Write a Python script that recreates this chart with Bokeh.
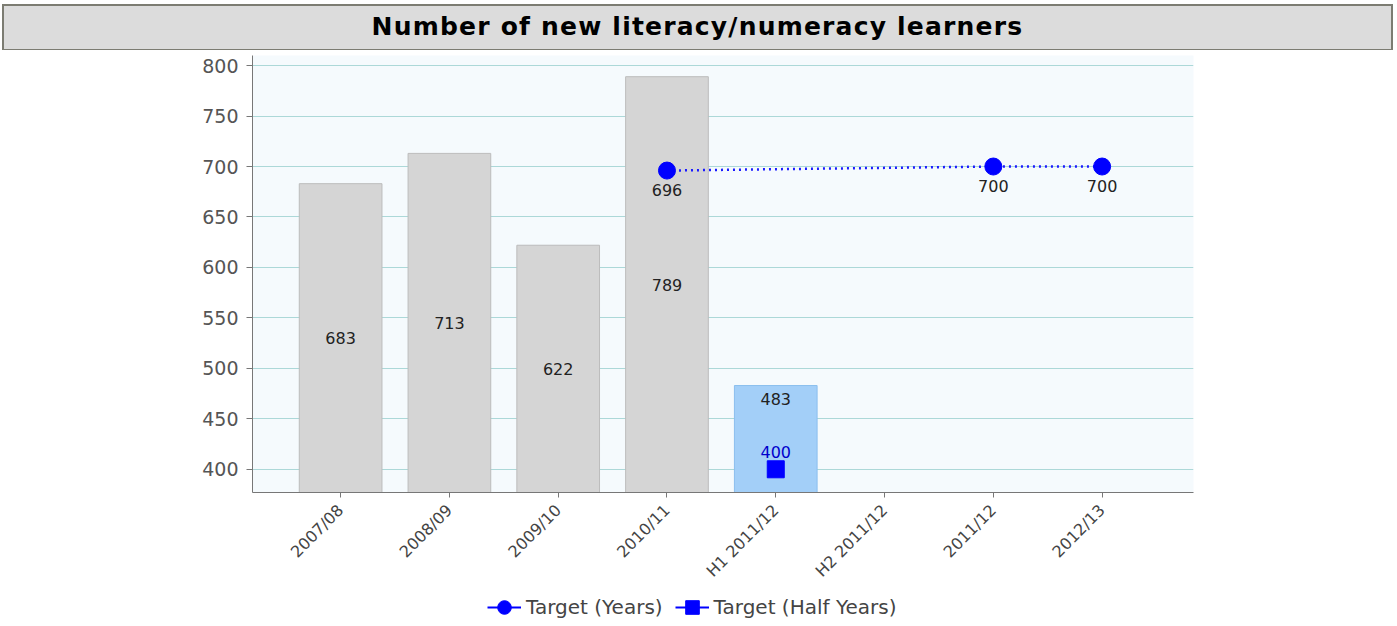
from bokeh.plotting import figure
from bokeh.models import Range1d, FixedTicker, Legend, LegendItem, Div
from bokeh.layouts import column
from bokeh.embed import file_html
from bokeh.resources import INLINE
from bokeh.core.properties import value
from math import pi

# ---------------- data ----------------
title_text = "Number of new literacy/numeracy learners"
categories = ["2007/08", "2008/09", "2009/10", "2010/11",
              "H1 2011/12", "H2 2011/12", "2011/12", "2012/13"]
actual_cats = ["2007/08", "2008/09", "2009/10", "2010/11", "H1 2011/12"]
actual_values = [683, 713, 622, 789, 483]
target_year_cats = ["2010/11", "2011/12", "2012/13"]
target_year_values = [696, 700, 700]
target_half_cats = ["H1 2011/12"]
target_half_values = [400]
y_ticks = [400, 450, 500, 550, 600, 650, 700, 750, 800]
legend_labels = ["Target (Years)", "Target (Half Years)"]

FONT = "DejaVu Sans"
Y0, Y1 = 377, 810

idx = {c: i for i, c in enumerate(categories)}

# ---------------- title bar ----------------
title = Div(
    text=(f'<div style="width:1391px;height:46px;box-sizing:border-box;'
          f'background:#dcdcdc;border:2px solid #7c7c72;border-bottom:1px solid #7c7c72;'
          f'font-family:\'DejaVu Sans\';font-weight:bold;font-size:25px;color:#000;'
          f'text-align:center;line-height:42px;letter-spacing:1.2px;">{title_text}</div>'),
    width=1391, height=46, margin=(4, 0, 0, 2))

# ---------------- main figure ----------------
p = figure(width=1395, height=540, output_backend="svg", toolbar_location=None,
           x_range=Range1d(-0.81, 7.84), y_range=Range1d(Y0, Y1),
           min_border_left=252, min_border_right=202,
           min_border_top=5, min_border_bottom=97)
p.outline_line_color = None
p.background_fill_color = "#f5fafd"
p.border_fill_color = "white"

# bars
bx = [idx[c] for c in actual_cats]
half_set = set(target_half_cats)
bar_fill = ["#a3cff8" if c.startswith("H") else "#d5d5d5" for c in actual_cats]
bar_line = ["#8cbfee" if c.startswith("H") else "#bcbcbc" for c in actual_cats]
p.vbar(x=bx, top=actual_values, bottom=Y0, width=0.76,
       fill_color=bar_fill, line_color=bar_line, line_width=1)

# bar value labels
label_y = [(v - 13) if c in half_set else (Y0 + v) / 2.0
           for c, v in zip(actual_cats, actual_values)]
p.text(x=bx, y=label_y, text=[str(v) for v in actual_values],
       text_font=value(FONT), text_font_size="16px", text_color="#222222",
       text_align="center", text_baseline="middle")

# target years
tx = [idx[c] for c in target_year_cats]
p.line(x=tx, y=target_year_values, line_color="#1a1aff", line_width=2.5,
       line_dash="2 4")
p.scatter(x=tx, y=target_year_values, marker="circle", size=17,
          fill_color="#0000ff", line_color="#0000ff")
p.text(x=tx, y=target_year_values, text=[str(v) for v in target_year_values],
       text_font=value(FONT), text_font_size="16px", text_color="#222222",
       text_align="center", text_baseline="middle", y_offset=19)

# target half years
hx = [idx[c] for c in target_half_cats]
p.scatter(x=hx, y=target_half_values, marker="square", size=17,
          fill_color="#0000ff", line_color="#0000ff")
p.text(x=hx, y=target_half_values, text=[str(v) for v in target_half_values],
       text_font=value(FONT), text_font_size="16px", text_color="#0000cc",
       text_align="center", text_baseline="middle", y_offset=-17)

# axes
p.xaxis.ticker = FixedTicker(ticks=list(range(len(categories))))
p.xaxis.major_label_overrides = {i: c for i, c in enumerate(categories)}
p.xaxis.major_label_orientation = pi / 4
p.xaxis.major_label_text_font = FONT
p.xaxis.major_label_text_font_size = "16px"
p.xaxis.major_label_text_color = "#444444"
p.xaxis.major_label_standoff = 10
p.xaxis.minor_tick_line_color = None
p.xaxis.major_tick_out = 5
p.xaxis.major_tick_in = 0
p.xaxis.axis_line_color = "#777777"
p.xaxis.major_tick_line_color = "#777777"

p.yaxis.ticker = FixedTicker(ticks=y_ticks)
p.yaxis.major_label_text_font = FONT
p.yaxis.major_label_text_font_size = "19px"
p.yaxis.major_label_text_color = "#555555"
p.yaxis.major_label_standoff = 8
p.yaxis.minor_tick_line_color = None
p.yaxis.major_tick_out = 6
p.yaxis.major_tick_in = 0
p.yaxis.axis_line_color = "#777777"
p.yaxis.major_tick_line_color = "#777777"

p.xgrid.grid_line_color = None
p.ygrid.grid_line_color = "#acd8d8"
p.ygrid.grid_line_width = 1

# ---------------- legend strip (same series, out of its view range) ----------------
lf = figure(width=1395, height=34, output_backend="svg", toolbar_location=None,
            x_range=Range1d(-100, -99), y_range=Range1d(-100, -99),
            x_axis_location=None, y_axis_location=None,
            min_border_left=0, min_border_right=0, min_border_top=0, min_border_bottom=0)
lf.outline_line_color = None
lf.grid.grid_line_color = None
lf.background_fill_color = "white"
lf.border_fill_color = "white"

lg_line1 = lf.line(x=tx, y=target_year_values, line_color="#0000ff", line_width=2)
lg_circ = lf.scatter(x=tx, y=target_year_values, marker="circle", size=14, color="#0000ff")
lg_line2 = lf.line(x=hx, y=target_half_values, line_color="#0000ff", line_width=2)
lg_sq = lf.scatter(x=hx, y=target_half_values, marker="square", size=14, color="#0000ff")
legend = Legend(items=[LegendItem(label=legend_labels[0], renderers=[lg_line1, lg_circ]),
                       LegendItem(label=legend_labels[1], renderers=[lg_line2, lg_sq])],
                orientation="horizontal", location=(235, 0),
                label_text_font=FONT, label_text_font_size="20px",
                label_text_color="#444444", glyph_width=34, glyph_height=34,
                label_standoff=5, spacing=12, padding=0, margin=0,
                border_line_color=None, background_fill_alpha=0)
lf.add_layout(legend)

layout = column(title, p, lf, spacing=0)
open("out.html", "w").write(file_html(layout, INLINE))
